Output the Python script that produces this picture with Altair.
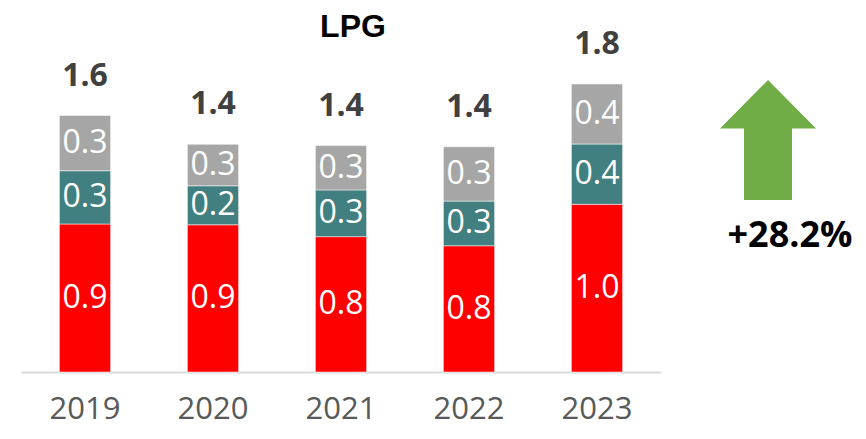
import altair as alt
import pandas as pd

years = ["2019", "2020", "2021", "2022", "2023"]
series = ["Red", "Teal", "Grey"]
red_vals = [0.925, 0.920, 0.846, 0.789, 1.048]
teal_vals = [0.333, 0.244, 0.292, 0.279, 0.377]
grey_vals = [0.345, 0.259, 0.277, 0.340, 0.375]
colors = ["#FF0000", "#427F80", "#A6A6A6"]
title_text = "LPG"
change_text = "+28.2%"

rows = []
for i, yr in enumerate(years):
    start = 0.0
    for k, (name, vals) in enumerate(zip(series, [red_vals, teal_vals, grey_vals])):
        v = vals[i]
        rows.append({"year": yr, "series": name, "order": k, "value": v,
                     "y0": start, "y1": start + v, "mid": start + v / 2})
        start += v
seg = pd.DataFrame(rows)
tot = pd.DataFrame({"year": years,
                    "total": [r + t + g for r, t, g in zip(red_vals, teal_vals, grey_vals)]})

FONT = "Open Sans"

xenc = alt.X("year:N", sort=years,
             scale=alt.Scale(paddingInner=0.6, paddingOuter=0.3),
             axis=alt.Axis(title=None, labelAngle=0, ticks=False, domainColor="#D9D9D9",
                           domainWidth=2, labelFont=FONT, labelFontSize=31,
                           labelColor="#595959", labelPadding=22, grid=False))
yscale = alt.Scale(domain=[0, 2.0], nice=False)

bars = alt.Chart(seg).mark_bar(stroke="#FFFFFF", strokeWidth=0.5).encode(
    x=xenc,
    y=alt.Y("y0:Q", scale=yscale, axis=None),
    y2="y1:Q",
    color=alt.Color("series:N", scale=alt.Scale(domain=series, range=colors), legend=None),
)

seg_labels = alt.Chart(seg).mark_text(font=FONT, fontSize=32, color="white",
                                      baseline="middle").encode(
    x=alt.X("year:N", sort=years),
    y=alt.Y("mid:Q", scale=yscale),
    text=alt.Text("value:Q", format=".1f"),
)

tot_labels = alt.Chart(tot).mark_text(font=FONT, fontSize=32, fontWeight="bold",
                                      color="#404040", baseline="middle", dy=-40).encode(
    x=alt.X("year:N", sort=years),
    y=alt.Y("total:Q", scale=yscale),
    text=alt.Text("total:Q", format=".1f"),
)

title = alt.Chart(pd.DataFrame({"t": [title_text]})).mark_text(
    font="Liberation Sans", fontSize=32, fontWeight="bold", color="black",
    baseline="middle").encode(
    x=alt.value(332), y=alt.value(-25), text="t:N")

arrow = alt.Chart(pd.DataFrame({"a": [1]})).mark_point(
    shape="M0,-1 L0.8,-0.19 L0.4,-0.19 L0.4,1 L-0.4,1 L-0.4,-0.19 L-0.8,-0.19 Z",
    filled=True, fill="#70AD47", stroke=None, opacity=1, size=14400).encode(
    x=alt.value(747), y=alt.value(88))

change = alt.Chart(pd.DataFrame({"t": [change_text]})).mark_text(
    font=FONT, fontSize=36, fontWeight="bold", color="black", baseline="middle").encode(
    x=alt.value(769), y=alt.value(184), text="t:N")

chart = alt.layer(bars, seg_labels, tot_labels, title, arrow, change).properties(
    width=640, height=320,
    autosize=alt.AutoSizeParams(type="none"),
    padding={"left": 13, "top": 44, "right": 197, "bottom": 59},
).configure_view(stroke=None)

chart.save("out.html", embed_options={"renderer": "svg", "actions": False})
